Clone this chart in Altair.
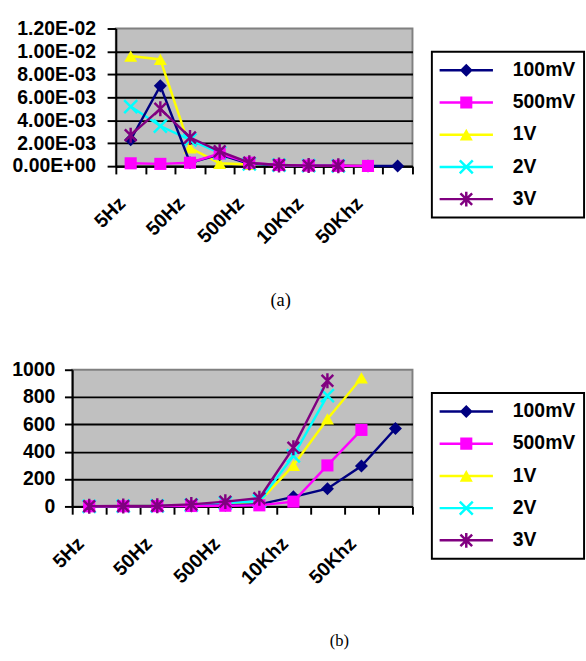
import math
import altair as alt
import pandas as pd

# ---------------- data ----------------
CATEGORIES = ["5Hz", "10Hz", "50Hz", "100Hz", "500Hz", "1Khz", "10Khz", "20Khz", "50Khz", "100Khz"]
SHOWN_LABELS = ["5Hz", "50Hz", "500Hz", "10Khz", "50Khz"]
SERIES = ["100mV", "500mV", "1V", "2V", "3V"]
COLORS = ["#000080", "#FF00FF", "#FFFF00", "#00FFFF", "#800080"]

# chart (a)
A_100MV = [2.3e-3, 7.0e-3, 0.3e-3, 1.0e-3, 0.2e-3, 0.1e-3, 0.05e-3, 0.03e-3, 0.02e-3, 0.01e-3]
A_500MV = [0.25e-3, 0.2e-3, 0.3e-3, 1.1e-3, 0.3e-3, 0.1e-3, 0.05e-3, 0.03e-3, 0.02e-3, None]
A_1V = [9.6e-3, 9.3e-3, 1.6e-3, 0.25e-3, 0.15e-3, 0.1e-3, 0.05e-3, 0.03e-3, 0.02e-3, None]
A_2V = [5.2e-3, 3.5e-3, 2.3e-3, 1.15e-3, 0.2e-3, 0.1e-3, 0.05e-3, 0.03e-3, None, None]
A_3V = [2.7e-3, 5.0e-3, 2.5e-3, 1.3e-3, 0.3e-3, 0.1e-3, 0.05e-3, 0.03e-3, None, None]
A_Y_TICKS = [0, 0.002, 0.004, 0.006, 0.008, 0.010, 0.012]

# chart (b)
B_100MV = [1, 1, 2, 3, 8, 15, 70, 130, 295, 570]
B_500MV = [1, 1, 2, 3, 5, 8, 35, 300, 560, None]
B_1V = [1, 2, 3, 8, 20, 35, 300, 640, 940, None]
B_2V = [1, 2, 4, 10, 25, 40, 370, 810, None, None]
B_3V = [2, 3, 5, 15, 35, 60, 430, 920, None, None]
B_Y_TICKS = [0, 200, 400, 600, 800, 1000]

DRAW_ORDER = ["1V", "2V", "100mV", "500mV", "3V"]

FONT = "Liberation Sans"
SERIF = "Liberation Serif"
FS = 20


def long_table(series_values):
    rows = []
    for s, vals in zip(SERIES, series_values):
        for i, (c, v) in enumerate(zip(CATEGORIES, vals)):
            if v is not None:
                rows.append({"freq": c, "idx": i, "series": s, "value": v})
    return pd.DataFrame(rows)


# ---------------- marker shapes ----------------
def poly(points):
    area = 0
    for k in range(len(points)):
        x0, y0 = points[k]
        x1, y1 = points[(k + 1) % len(points)]
        area += x0 * y1 - x1 * y0
    if area < 0:
        points = points[::-1]
    return "M" + "L".join(f"{x:.3f},{y:.3f}" for x, y in points) + "Z"


def bar(x0, y0, x1, y1, h):
    dx, dy = x1 - x0, y1 - y0
    ln = math.hypot(dx, dy)
    nx, ny = -dy / ln * h, dx / ln * h
    return poly([(x0 - nx, y0 - ny), (x1 - nx, y1 - ny), (x1 + nx, y1 + ny), (x0 + nx, y0 + ny)])


LEG_HALF = 4.1
LEG_T = 0.19
LEG_LINE = bar(-LEG_HALF, 0, LEG_HALF, 0, LEG_T)
LEGEND_SHAPES = [
    LEG_LINE + poly([(0, -1), (1, 0), (0, 1), (-1, 0)]),
    LEG_LINE + poly([(-0.93, -0.93), (0.93, -0.93), (0.93, 0.93), (-0.93, 0.93)]),
    LEG_LINE + poly([(0, -0.9), (1, 0.9), (-1, 0.9)]),
    LEG_LINE + bar(-1, -1, 1, 1, LEG_T) + bar(-1, 1, 1, -1, LEG_T),
    LEG_LINE + bar(-0.9, -0.9, 0.9, 0.9, LEG_T) + bar(-0.9, 0.9, 0.9, -0.9, LEG_T)
    + bar(0, -1.15, 0, 1.15, LEG_T),
]

POINT_SHAPES = {
    "100mV": ("diamond", True),
    "500mV": ("M-0.93,-0.93H0.93V0.93H-0.93Z", True),
    "1V": ("triangle-up", True),
    "2V": ("M-1,-1L1,1M-1,1L1,-1", False),
    "3V": ("M-0.9,-0.9L0.9,0.9M-0.9,0.9L0.9,-0.9M0,-1.15L0,1.15", False),
}


def panel(df, width, height, y_domain, y_ticks, y_label_expr, y_tick, y_pad, top_value,
          legend_x, legend_y, caption, cap_dx, cap_offset, cap_size):
    x_axis = alt.Axis(
        title=None, tickBand="extent", grid=False,
        labelExpr="indexof(" + str(SHOWN_LABELS) + ", datum.value) >= 0 ? datum.label : ''",
        labelAngle=-45, labelAlign="right", labelBaseline="middle",
        labelPadding=27, labelOffset=-9, labelOverlap=False, tickSize=8,
    )
    y_axis = alt.Axis(
        title=None, values=y_ticks, labelExpr=y_label_expr, tickSize=y_tick, labelPadding=y_pad,
        grid=True, gridColor="black", gridWidth=2,
        gridOpacity={"condition": {"test": f"datum.value >= {top_value * 0.999}", "value": 0}, "value": 1},
    )
    x = alt.X("freq:N", sort=CATEGORIES,
              scale=alt.Scale(type="band", domain=CATEGORIES, paddingInner=0, paddingOuter=0),
              axis=x_axis)
    y = alt.Y("value:Q", scale=alt.Scale(domain=y_domain, nice=False, zero=True), axis=y_axis)

    layers = []
    for s in DRAW_ORDER:
        i = SERIES.index(s)
        base = alt.Chart(df).transform_filter(alt.datum.series == s)
        layers.append(base.mark_line(color=COLORS[i], strokeWidth=2.5).encode(
            x=x, y=y, order=alt.Order("idx:Q")))
        shape, filled = POINT_SHAPES[s]
        if filled:
            pt = base.mark_point(shape=shape, filled=True, size=180, opacity=1, color=COLORS[i])
        else:
            pt = base.mark_point(shape=shape, filled=False, size=180, opacity=1, color=COLORS[i],
                                 strokeWidth=2.5)
        layers.append(pt.encode(x=x, y=y))

    leg = alt.Legend(
        title=None, orient="none", legendX=legend_x, legendY=legend_y, direction="vertical",
        padding=9, strokeColor="black", fillColor="white", symbolSize=180, symbolStrokeWidth=0,
        symbolOffset=16.5, labelOffset=38, labelFont=FONT, labelFontSize=FS,
        labelFontWeight="bold", labelColor="black", rowPadding=13.25, symbolOpacity=1,
        labelLimit=300,
    )
    legend_layer = alt.Chart(df).transform_filter("false").mark_point(filled=True, opacity=1).encode(
        x=x, y=y,
        color=alt.Color("series:N", scale=alt.Scale(domain=SERIES, range=COLORS), legend=leg),
        shape=alt.Shape("series:N", scale=alt.Scale(domain=SERIES, range=LEGEND_SHAPES), legend=leg),
    )
    layers.append(legend_layer)

    return alt.layer(*layers).properties(
        width=width, height=height,
        view=alt.ViewBackground(fill="#C0C0C0", stroke="#808080", strokeWidth=2),
        title=alt.TitleParams(caption, orient="bottom", anchor="middle", frame="group",
                              offset=cap_offset, dx=cap_dx, font=SERIF, fontSize=cap_size,
                              fontWeight="normal", color="black", baseline="top"),
    )


df_a = long_table([A_100MV, A_500MV, A_1V, A_2V, A_3V])
df_b = long_table([B_100MV, B_500MV, B_1V, B_2V, B_3V])

chart_a = panel(
    df_a, 306, 142, [0, 0.012], A_Y_TICKS,
    "replace(replace(format(datum.value, '.2e'), 'e-', 'E-0'), 'e+', 'E+0')",
    9, 12, 0.012, 326, 24, "(a)", 17, 46, 19,
)
chart_b = panel(
    df_b, 351, 141, [0, 1000], B_Y_TICKS, "format(datum.value, 'd')",
    8, 10, 1000, 371, 24, "(b)", 100, 47, 17,
)


def spacer(w, h):
    return alt.Chart(alt.Data(values=[{"v": 0}])).mark_text(text="").properties(width=w, height=h)


row_a = alt.hconcat(spacer(46, 142), chart_a, spacing=0, bounds="flush").resolve_legend(
    color="independent", shape="independent")
row_b = alt.hconcat(spacer(1, 141), chart_b, spacing=0, bounds="flush").resolve_legend(
    color="independent", shape="independent")

chart = alt.vconcat(row_a, row_b, spacing=49).resolve_legend(
    color="independent", shape="independent"
).properties(
    padding={"left": 10.5, "top": 8, "right": 0, "bottom": 0},
    background="white",
).configure_view(stroke="transparent").configure_axis(
    labelFont=FONT, labelFontSize=FS, labelFontWeight="bold", labelColor="black",
    domainColor="black", domainWidth=2, tickColor="black", tickWidth=2,
).configure_legend(strokeWidth=2)

chart.save("out.html", embed_options={"renderer": "svg", "actions": False})
